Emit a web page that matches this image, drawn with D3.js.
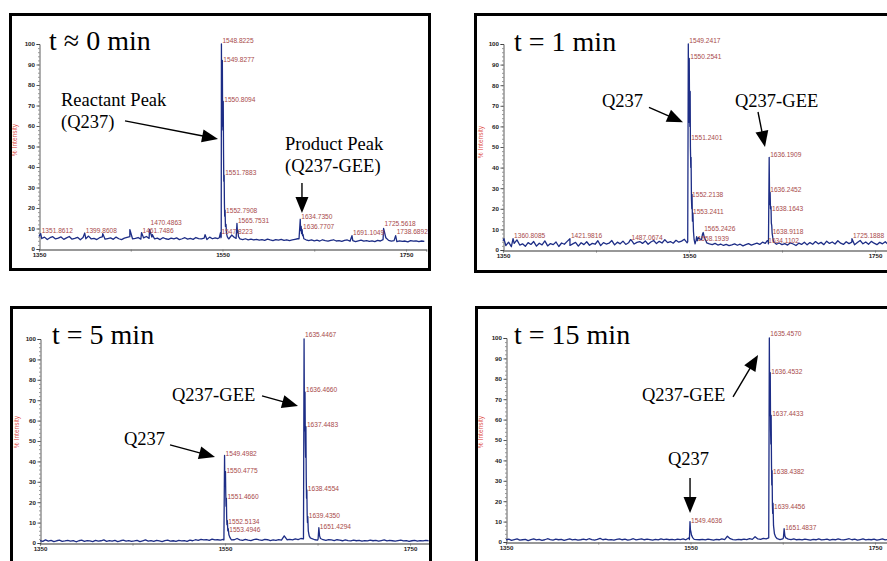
<!DOCTYPE html>
<html><head><meta charset="utf-8">
<script src="https://cdn.jsdelivr.net/npm/d3@7/dist/d3.min.js"></script>
<style>body{margin:0;background:#fff}svg{display:block}</style>
</head><body>
<svg id="c" width="887" height="561"></svg>
<script>
// ---------- DATA ----------
const mzStart = 1350, mzStep = 3;   // baseline samples every 3 m/z from 1350 to 1770
const xTicks = [1350, 1450, 1550, 1650, 1750];
const xTickLabels = [1350, 1550, 1750];
const yTicks = [0, 10, 20, 30, 40, 50, 60, 70, 80, 90, 100];
const yMinorTicks = d3.range(0, 101, 2);
const titles = ["t \u2248 0 min", "t = 1 min", "t = 5 min", "t = 15 min"];

const baseA = [
6.2,5.1,5.8,4.6,5.5,6.0,4.9,5.3,5.9,4.7,
5.4,6.1,4.8,5.2,5.7,4.5,5.6,5.0,6.3,4.9,
5.2,4.6,5.5,5.9,4.8,5.1,5.4,4.7,5.8,5.0,
4.6,5.3,5.7,6.0,4.9,5.2,5.6,4.8,5.4,6.1,
5.2,5.8,4.9,5.3,4.6,5.5,5.0,4.7,5.3,4.9,
5.4,4.6,5.0,5.5,4.8,5.2,4.7,5.6,5.1,4.9,
5.3,4.6,5.8,5.0,5.4,5.1,6.0,5.5,5.2,5.0,
6.8,5.6,5.2,4.9,4.6,5.0,4.5,4.8,4.4,4.7,
4.3,4.6,4.2,4.8,4.4,4.1,4.6,4.3,4.7,4.2,
4.5,4.1,4.4,4.7,5.0,6.2,4.8,4.5,4.1,4.4,
4.0,4.3,3.9,4.5,4.1,3.8,4.2,4.5,3.9,4.1,
3.7,4.2,4.4,3.8,4.1,3.6,4.0,4.3,3.8,4.1,
3.7,4.0,3.6,4.2,3.9,4.6,5.5,4.2,3.8,4.1,
3.6,4.0,3.7,3.9,3.5,4.1,3.8,4.0,3.6,3.9,
3.7];
const baseB = [
4.5,2.1,3.8,1.6,3.2,4.9,2.4,3.0,1.8,3.6,
2.7,4.1,1.9,3.3,2.5,4.4,2.0,3.1,2.6,3.9,
1.7,3.4,2.8,4.2,2.2,3.0,3.7,1.9,3.5,2.6,
4.0,2.3,3.2,2.8,4.5,2.1,3.6,2.9,3.3,4.6,
2.5,3.8,3.0,4.3,2.7,3.5,4.8,2.9,3.7,4.1,
3.2,4.4,2.8,3.9,4.6,3.1,4.2,3.4,5.0,3.6,
4.1,3.3,4.7,3.8,4.3,5.2,3.5,4.0,4.4,4.0,
6.0,5.0,4.2,3.5,3.0,2.6,3.2,2.4,2.9,2.2,
2.7,2.1,2.5,3.0,2.3,2.8,2.0,2.6,3.1,2.4,
2.9,3.3,2.7,3.8,3.2,4.4,3.0,3.6,2.8,3.4,
2.6,3.1,2.4,3.5,2.9,2.2,3.3,2.7,3.8,2.5,
3.6,2.8,4.1,3.0,3.7,2.6,4.3,3.2,3.9,2.9,
4.5,3.3,2.7,4.0,3.1,3.8,2.5,3.6,4.6,3.0,
3.9,2.8,4.2,3.3,2.6,3.7,3.0,4.0,2.7,3.4,
3.1];
const baseC = [
1.2,0.8,1.5,0.9,1.3,0.7,1.1,1.4,0.8,1.0,
1.3,0.9,1.2,0.6,1.1,1.4,0.8,1.2,1.0,0.7,
1.3,0.9,1.1,1.5,0.8,1.2,0.9,1.3,0.7,1.1,
1.4,0.9,1.2,0.8,1.0,1.3,0.7,1.1,1.5,0.9,
1.2,0.8,1.3,1.0,0.7,1.2,1.4,0.9,1.1,0.8,
1.3,1.0,1.2,0.8,1.4,1.1,1.6,1.3,1.8,1.5,
1.7,1.3,1.9,1.5,1.6,1.4,1.8,2.0,1.7,1.5,
1.6,2.2,1.5,1.3,1.8,1.4,1.2,1.7,1.9,1.5,
1.3,1.8,1.6,1.2,1.5,1.3,1.7,1.4,3.5,1.6,
1.8,1.5,2.0,1.7,2.2,2.4,2.0,1.8,2.1,1.6,
1.4,2.0,1.6,1.3,1.7,1.5,1.2,1.6,1.4,1.1,
1.5,1.2,1.0,1.4,1.1,1.3,0.9,1.2,1.0,1.4,
1.1,1.3,0.9,1.2,1.5,1.0,1.3,1.1,0.9,1.2,
1.4,1.0,1.2,0.8,1.1,1.3,0.9,1.2,1.0,1.3,
1.1];
const baseD = [
1.0,1.4,0.8,1.2,1.5,0.9,1.1,1.3,0.7,1.2,
1.5,1.0,1.3,0.8,1.1,1.6,1.2,0.9,1.4,1.1,
1.3,0.8,1.2,1.5,1.0,1.3,0.9,1.1,1.4,1.0,
1.6,1.2,0.9,1.3,1.8,1.1,1.4,1.0,1.2,0.9,
1.3,1.5,1.1,1.4,0.9,1.2,1.6,1.0,1.3,1.5,
1.1,1.4,1.2,0.9,1.3,1.0,1.5,1.2,1.4,1.1,
1.3,1.0,1.4,1.2,1.5,1.1,2.0,1.6,1.3,1.2,
1.1,1.3,1.0,1.4,1.2,0.9,1.3,1.1,1.5,1.2,
2.8,1.6,1.2,1.0,1.3,1.1,1.4,1.2,1.6,1.3,
2.6,1.5,1.3,1.8,1.5,2.0,1.7,1.4,1.6,1.2,
1.5,2.2,1.4,1.2,1.5,1.1,1.3,1.0,1.4,1.2,
0.9,1.3,1.1,1.5,1.0,1.2,1.4,0.9,1.3,1.1,
1.5,1.2,1.0,1.3,1.6,1.1,1.4,0.9,1.2,1.5,
1.0,1.3,1.1,1.4,0.9,1.2,1.5,1.0,1.3,1.1,
1.2];

// peak clusters: [m/z, % intensity]
const peaksA = [
 [[1546.5,5.5],[1547.82,8],[1548.3,5.5],[1548.6,6],[1548.82,100],[1549.1,70],[1549.4,60],[1549.83,92],[1550.1,66],[1550.4,58],[1550.81,72],[1551.1,48],[1551.4,33],[1551.79,36],[1552.1,22],[1552.4,16],[1552.79,19],[1553.2,11],[1553.79,12],[1554.4,7.5],[1555.2,6],[1556.5,5]],
 [[1564.8,5.2],[1565.75,12.5],[1566.3,8],[1566.8,9],[1567.4,6]],
 [[1633.4,5],[1634.74,14.5],[1635.1,9],[1635.75,11],[1636.2,7.5],[1636.77,9.5],[1637.3,6.5],[1637.8,7],[1638.6,5]],
 [[1351.86,7.5]],[[1399.86,7.8]],[[1419.5,7.5]],[[1449,9.5]],[[1461.75,8]],[[1470.49,9.5]],[[1473.5,7]],
 [[1531,7]],[[1691.1,6.5]],[[1725.56,10]],[[1738.69,6.5]]
];
const peaksB = [
 [[1548.6,4],[1549.24,100],[1549.5,70],[1549.9,62],[1550.25,93],[1550.5,72],[1550.9,60],[1551.24,77],[1551.5,50],[1551.9,40],[1552.21,45],[1552.6,25],[1553.0,20],[1553.24,27],[1553.7,14],[1554.2,18],[1554.8,9],[1555.5,5],[1556.5,3]],
 [[1557.5,4.5],[1558.19,6.5],[1559,4.5]],
 [[1563.5,5],[1564.4,7.5],[1565.24,8.5],[1566,7],[1567,5.5],[1568.2,4.5]],
 [[1634.11,4.5]],
 [[1635.4,3],[1636.19,45],[1636.5,30],[1636.9,22],[1637.2,28],[1637.6,20],[1638.16,21],[1638.5,13],[1638.91,12],[1639.4,8],[1640.1,6],[1641,4]],
 [[1351,5.5]],[[1360.81,5.5]],[[1421.98,5.5]],[[1487.07,5]],[[1725.19,5.5]]
];
const peaksC = [
 [[1548.8,1.5],[1549.5,43],[1549.8,30],[1550.1,28],[1550.48,35],[1550.8,24],[1551.1,18],[1551.47,22],[1551.8,12],[1552.1,9],[1552.51,11],[1553,6],[1553.49,7],[1554.2,4],[1555,3],[1556.2,2]],
 [[1634.8,2],[1635.45,100],[1635.8,65],[1636.1,55],[1636.47,74],[1636.8,50],[1637.1,42],[1637.45,57],[1637.8,32],[1638.1,22],[1638.46,26],[1638.8,14],[1639.1,10],[1639.44,13],[1640,6],[1641,3.5],[1642.2,2.5]],
 [[1650.6,2],[1651.43,7.5],[1652.2,3.5],[1653.2,2.2]]
];
const peaksD = [
 [[1548.8,1.2],[1549.46,10],[1549.9,6],[1550.46,5],[1551,3.5],[1551.5,3],[1552.5,2]],
 [[1634.8,2],[1635.46,100],[1635.8,70],[1636.1,62],[1636.45,83],[1636.8,55],[1637.1,48],[1637.44,62],[1637.8,38],[1638.1,28],[1638.44,35],[1638.8,18],[1639.1,14],[1639.45,19],[1640,8],[1641,4],[1642.3,2.5]],
 [[1650.7,2],[1651.49,6.5],[1652.3,3],[1653.3,2]]
];

// peak labels: [text, m/z, % intensity of text baseline]
const labelsA = [["1548.8225",1548.82,100.5],["1549.8277",1549.83,91],["1550.8094",1550.81,71.5],["1551.7883",1551.79,36],["1552.7908",1552.79,17.5],["1565.7531",1565.75,12.8],["1547.8223",1547.82,7.3],["1634.7350",1634.74,14.5],["1636.7707",1636.77,9.8],["1470.4863",1470.49,11.7],["1461.7486",1461.75,7.8],["1399.8608",1399.86,7.8],["1351.8612",1351.86,7.8],["1691.1049",1691.10,6.8],["1725.5618",1725.56,11.2],["1738.6892",1738.69,7.3]];
const labelsB = [["1549.2417",1549.24,100.5],["1550.2541",1550.25,92.7],["1551.2401",1551.24,53.4],["1552.2138",1552.21,25.7],["1553.2411",1553.24,17.5],["1565.2426",1565.24,9],["1558.1939",1558.19,4.6],["1636.1909",1636.19,45.1],["1636.2452",1636.25,28.2],["1638.1643",1638.16,18.9],["1638.9118",1638.91,7.8],["1634.1102",1634.11,3.4],["1360.8085",1360.81,5.8],["1421.9816",1421.98,5.8],["1487.0674",1487.07,4.9],["1725.1888",1725.19,5.8]];
const labelsC = [["1635.4467",1635.45,101],["1636.4660",1636.47,74],["1637.4483",1637.45,57],["1638.4554",1638.46,25.5],["1639.4350",1639.44,12.3],["1651.4294",1651.43,6.9],["1549.4982",1549.50,42.6],["1550.4775",1550.48,34.3],["1551.4660",1551.47,21.6],["1552.5134",1552.51,9.3],["1553.4946",1553.49,5.4]];
const labelsD = [["1635.4570",1635.46,101],["1636.4532",1636.45,82.4],["1637.4433",1637.44,61.8],["1638.4382",1638.44,33.3],["1639.4456",1639.45,16.2],["1651.4837",1651.49,5.9],["1549.4636",1549.46,9.3]];

// annotations: text lines [text, x, y] and arrows {tip:[m/z, %], tail offset px}
const notesA = [["Reactant Peak",61,106],["(Q237)",61,128],["Product Peak",285,150],["(Q237-GEE)",285,172]];
const notesB = [["Q237",602,107],["Q237-GEE",735,107]];
const notesC = [["Q237-GEE",172,401],["Q237",124,445]];
const notesD = [["Q237-GEE",642,401],["Q237",668,465]];
const arrowsA = [{tip:[1545.1,53.7],off:[-93,-18]},{tip:[1636.6,17.6],off:[0,-30]}];
const arrowsB = [{tip:[1543.5,62],off:[-34,-15]},{tip:[1631.7,50],off:[-7,-35]}];
const arrowsC = [{tip:[1628.9,67.2],off:[-36,-10]},{tip:[1539.2,42.2],off:[-45,-12]}];
const arrowsD = [{tip:[1623.2,91.7],off:[-25,42]},{tip:[1549.5,14.2],off:[0,-35]}];

// ---------- LAYOUT ----------
const mzMax = 1772;
const panels = [
 {box:[10.5,14.5,419,255], xr:[39,426.2], yr:[249,44], base:baseA, peaks:peaksA, labels:labelsA, notes:notesA, arrows:arrowsA, title:[49,50], yl:[17,140]},
 {box:[475.5,14.5,430,257], xr:[503,895.5], yr:[250,44], base:baseB, peaks:peaksB, labels:labelsB, notes:notesB, arrows:arrowsB, title:[514,51], yl:[483,142]},
 {box:[11.5,307.5,419,300], xr:[40,430.4], yr:[543,339], base:baseC, peaks:peaksC, labels:labelsC, notes:notesC, arrows:arrowsC, title:[52,344], yl:[19,432]},
 {box:[476.5,307.5,430,300], xr:[506,895.3], yr:[542,338], base:baseD, peaks:peaksD, labels:labelsD, notes:notesD, arrows:arrowsD, title:[514,344], yl:[483,432]}
];

function series(base, clusters){
  const ranges = clusters.filter(c=>c.length>1).map(c=>[c[0][0], c[c.length-1][0]]);
  const pts = base.map((v,i)=>[mzStart+i*mzStep, v])
    .filter(([m])=>!ranges.some(([a,b])=>m>=a && m<=b));
  clusters.forEach(c=>c.forEach(p=>pts.push(p)));
  return pts.sort((a,b)=>a[0]-b[0]);
}

const svg = d3.select("#c");
const SERIF = "'Liberation Serif','Times New Roman',serif";
const SANS = "'Liberation Sans',Arial,sans-serif";

panels.forEach((p,i)=>{
  const g = svg.append("g");
  const x = d3.scaleLinear().domain([mzStart, mzMax]).range(p.xr);
  const y = d3.scaleLinear().domain([0,100]).range(p.yr);
  const cid = "clip"+i;
  svg.append("clipPath").attr("id",cid).append("rect")
    .attr("x",p.box[0]+1.5).attr("y",p.box[1]+1.5).attr("width",p.box[2]-3).attr("height",p.box[3]-3);

  // x axis
  const xa = g.append("g").attr("transform",`translate(0,${p.yr[0]+0.5})`)
    .call(d3.axisBottom(x).tickValues(xTicks).tickSizeOuter(0).tickSize(2).tickPadding(1)
      .tickFormat(d=>xTickLabels.includes(d)? String(d):""));
  xa.select(".domain").attr("stroke","#777").attr("stroke-width",1.3);
  xa.selectAll(".tick line").attr("stroke","#777");
  xa.selectAll("text").attr("font-family",SANS).attr("font-size",6.2).attr("font-weight","bold").attr("fill","#222");

  // y axis
  const ya = g.append("g").attr("transform",`translate(${p.xr[0]+0.5},0)`)
    .call(d3.axisLeft(y).tickValues(yTicks).tickSizeOuter(0).tickSize(3).tickPadding(1.5));
  ya.select(".domain").attr("stroke","#333").attr("stroke-width",0.8);
  ya.selectAll(".tick line").attr("stroke","#333").attr("stroke-width",0.8);
  ya.selectAll("text").attr("font-family",SANS).attr("font-size",6.2).attr("font-weight","bold").attr("fill","#222");
  const ym = g.append("g").attr("transform",`translate(${p.xr[0]+0.5},0)`)
    .call(d3.axisLeft(y).tickValues(yMinorTicks).tickSizeOuter(0).tickSize(1.5).tickFormat(""));
  ym.select(".domain").remove();
  ym.selectAll(".tick line").attr("stroke","#555").attr("stroke-width",0.6);

  // y label
  g.append("text").attr("transform",`translate(${p.yl[0]},${p.yl[1]}) rotate(-90)`)
    .attr("text-anchor","middle").attr("font-family",SANS).attr("font-size",6.6)
    .attr("fill","#e0504a").text("% Intensity");

  // spectrum
  const line = d3.line().x(d=>x(d[0])).y(d=>y(d[1]));
  g.append("path").datum(series(p.base,p.peaks)).attr("d",line)
    .attr("clip-path",`url(#${cid})`)
    .attr("fill","none").attr("stroke","#1d2d86").attr("stroke-width",1.3).attr("stroke-linejoin","round");

  // peak labels
  g.append("g").attr("clip-path",`url(#${cid})`).selectAll("text").data(p.labels).join("text")
    .attr("x",d=>x(d[1])+1).attr("y",d=>y(d[2]))
    .attr("font-family",SANS).attr("font-size",6.6).attr("fill","#a84a4a").text(d=>d[0]);

  // title
  g.append("text").attr("x",p.title[0]).attr("y",p.title[1]).attr("font-family",SERIF)
    .attr("font-size",28).attr("fill","#000").text(titles[i]);

  // annotation text
  g.selectAll("text.note").data(p.notes).join("text").attr("class","note")
    .attr("x",d=>d[1]).attr("y",d=>d[2]).attr("font-family",SERIF).attr("font-size",18.5)
    .attr("fill","#000").text(d=>d[0]);

  // arrows
  p.arrows.forEach(a=>{
    const tx = x(a.tip[0]), ty = y(a.tip[1]);
    const sx = tx + a.off[0], sy = ty + a.off[1];
    const dx = tx - sx, dy = ty - sy, len = Math.hypot(dx,dy);
    const ux = dx/len, uy = dy/len, L = 16, W = 6.5;
    const bx = tx - ux*L, by = ty - uy*L;
    g.append("line").attr("x1",sx).attr("y1",sy).attr("x2",bx+ux*2).attr("y2",by+uy*2)
      .attr("stroke","#000").attr("stroke-width",1.4);
    g.append("path").attr("d",`M${tx},${ty}L${bx-uy*W},${by+ux*W}L${bx+uy*W},${by-ux*W}Z`).attr("fill","#000");
  });

  // frame
  g.append("rect").attr("x",p.box[0]).attr("y",p.box[1]).attr("width",p.box[2]).attr("height",p.box[3])
    .attr("fill","none").attr("stroke","#000").attr("stroke-width",3);
});
</script>
</body></html>
